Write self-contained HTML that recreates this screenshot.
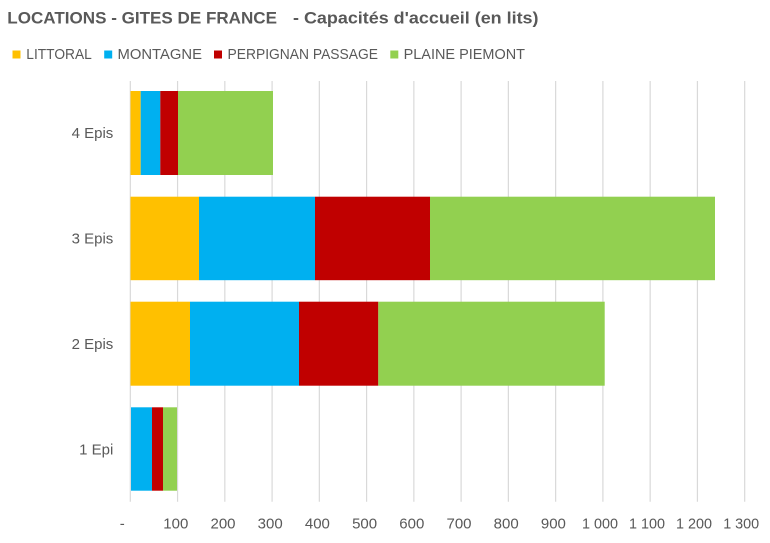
<!DOCTYPE html>
<html>
<head>
<meta charset="utf-8">
<style>
  html,body{margin:0;padding:0;background:#fff;}
  svg{display:block;}
  text{font-family:"Liberation Sans", Arial, sans-serif;fill:#595959;}
</style>
</head>
<body>
<svg width="770" height="543" viewBox="0 0 770 543" xmlns="http://www.w3.org/2000/svg">
  <rect x="0" y="0" width="770" height="543" fill="#fff"/>
  <!-- Title -->
  <text x="7.3" y="23.3" font-size="17" font-weight="bold" textLength="269.7" lengthAdjust="spacingAndGlyphs">LOCATIONS - GITES DE FRANCE</text>
  <text x="293" y="23.3" font-size="17" font-weight="bold" textLength="245.5" lengthAdjust="spacingAndGlyphs">- Capacités d'accueil (en lits)</text>

  <!-- Legend -->
  <rect x="12.5" y="50.5" width="8" height="8" fill="#FFC000"/>
  <text x="26.3" y="59" font-size="15" textLength="65.5" lengthAdjust="spacingAndGlyphs">LITTORAL</text>
  <rect x="104.2" y="50.5" width="8" height="8" fill="#00B0F0"/>
  <text x="117.5" y="59" font-size="15" textLength="84.5" lengthAdjust="spacingAndGlyphs">MONTAGNE</text>
  <rect x="214" y="50.5" width="8" height="8" fill="#C00000"/>
  <text x="227.5" y="59" font-size="15" textLength="150.5" lengthAdjust="spacingAndGlyphs">PERPIGNAN PASSAGE</text>
  <rect x="390.3" y="50.5" width="8" height="8" fill="#92D050"/>
  <text x="403.6" y="59" font-size="15" textLength="121.4" lengthAdjust="spacingAndGlyphs">PLAINE PIEMONT</text>

  <!-- Gridlines -->
  <g stroke="#D9D9D9" stroke-width="1.2">
    <line x1="130.3" y1="81" x2="130.3" y2="501.7"/>
    <line x1="177.56" y1="81" x2="177.56" y2="501.7"/>
    <line x1="224.82" y1="81" x2="224.82" y2="501.7"/>
    <line x1="272.08" y1="81" x2="272.08" y2="501.7"/>
    <line x1="319.34" y1="81" x2="319.34" y2="501.7"/>
    <line x1="366.6" y1="81" x2="366.6" y2="501.7"/>
    <line x1="413.86" y1="81" x2="413.86" y2="501.7"/>
    <line x1="461.12" y1="81" x2="461.12" y2="501.7"/>
    <line x1="508.38" y1="81" x2="508.38" y2="501.7"/>
    <line x1="555.64" y1="81" x2="555.64" y2="501.7"/>
    <line x1="602.9" y1="81" x2="602.9" y2="501.7"/>
    <line x1="650.16" y1="81" x2="650.16" y2="501.7"/>
    <line x1="697.42" y1="81" x2="697.42" y2="501.7"/>
    <line x1="744.68" y1="81" x2="744.68" y2="501.7"/>
  </g>

  <!-- 4 Epis -->
  <rect x="130.5" y="91" width="10.2" height="84" fill="#FFC000"/>
  <rect x="140.7" y="91" width="19.6" height="84" fill="#00B0F0"/>
  <rect x="160.3" y="91" width="17.7" height="84" fill="#C00000"/>
  <rect x="178" y="91" width="95" height="84" fill="#92D050"/>

  <!-- 3 Epis -->
  <rect x="130.5" y="196.7" width="68.5" height="83.5" fill="#FFC000"/>
  <rect x="199" y="196.7" width="116" height="83.5" fill="#00B0F0"/>
  <rect x="315" y="196.7" width="115" height="83.5" fill="#C00000"/>
  <rect x="430" y="196.7" width="285" height="83.5" fill="#92D050"/>

  <!-- 2 Epis -->
  <rect x="130.5" y="301.7" width="59.5" height="84" fill="#FFC000"/>
  <rect x="190" y="301.7" width="109" height="84" fill="#00B0F0"/>
  <rect x="299" y="301.7" width="79.3" height="84" fill="#C00000"/>
  <rect x="378.3" y="301.7" width="226.4" height="84" fill="#92D050"/>

  <!-- 1 Epi -->
  <rect x="131" y="407.3" width="21" height="83.4" fill="#00B0F0"/>
  <rect x="152" y="407.3" width="11" height="83.4" fill="#C00000"/>
  <rect x="163" y="407.3" width="14" height="83.4" fill="#92D050"/>

  <!-- Category labels -->
  <g font-size="15" text-anchor="end">
    <text x="113.3" y="138">4 Epis</text>
    <text x="113.3" y="243.7">3 Epis</text>
    <text x="113.3" y="349">2 Epis</text>
    <text x="113.3" y="454.3">1 Epi</text>
  </g>

  <!-- Tick labels -->
  <g font-size="15" text-anchor="middle">
    <text x="122.3" y="528.7">-</text>
    <text x="175.8" y="528.7">100</text>
    <text x="223" y="528.7">200</text>
    <text x="270.2" y="528.7">300</text>
    <text x="317.4" y="528.7">400</text>
    <text x="364.6" y="528.7">500</text>
    <text x="411.8" y="528.7">600</text>
    <text x="459" y="528.7">700</text>
    <text x="506.2" y="528.7">800</text>
    <text x="553.4" y="528.7">900</text>
    <text x="600" y="528.7" textLength="36" lengthAdjust="spacingAndGlyphs">1 000</text>
    <text x="647" y="528.7" textLength="36" lengthAdjust="spacingAndGlyphs">1 100</text>
    <text x="694" y="528.7" textLength="36" lengthAdjust="spacingAndGlyphs">1 200</text>
    <text x="741.2" y="528.7" textLength="36" lengthAdjust="spacingAndGlyphs">1 300</text>
  </g>
</svg>
</body>
</html>
